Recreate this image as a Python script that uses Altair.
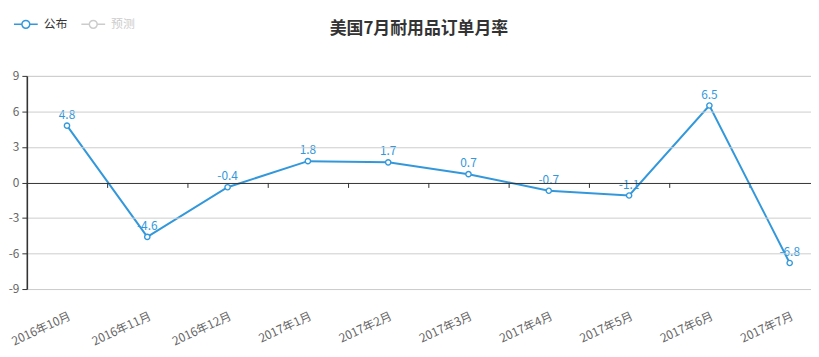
import altair as alt
import pandas as pd

months = ["2016年10月", "2016年11月", "2016年12月", "2017年1月", "2017年2月",
          "2017年3月", "2017年4月", "2017年5月", "2017年6月", "2017年7月"]
values = [4.8, -4.6, -0.4, 1.8, 1.7, 0.7, -0.7, -1.1, 6.5, -6.8]
series = ["公布", "预测"]
colors = ["#3398DB", "#cccccc"]
y_ticks = [-9, -6, -3, 0, 3, 6, 9]
title_text = "美国7月耐用品订单月率"

df = pd.DataFrame({
    "month": months,
    "value": values,
    "label": [f"{v:.1f}" for v in values],
    "series": series[0],
})

FONT = "Noto Sans CJK SC"
BLUE = colors[0]

x_scale = alt.Scale(type="band", domain=months, range=[0, 810], paddingInner=0, paddingOuter=0)
y_scale = alt.Scale(domain=[-9, 9], nice=False, zero=False)

y_axis = alt.Axis(
    title=None, values=y_ticks, grid=True, labelExpr="datum.value + ''",
    gridColor={"condition": {"test": "datum.value === 0", "value": "#333333"}, "value": "#cccccc"},
    gridWidth=1, domain=True, domainColor="#333333", domainWidth=1.6,
    ticks=True, tickColor="#333333", tickSize=5,
    labelColor="#666666", labelFont=FONT, labelFontSize=12, labelPadding=3,
    labelOverlap=False, zindex=2,
)

x_label_axis = alt.Axis(
    title=None, orient="bottom", domain=False, ticks=False, grid=False,
    labelAngle=-25, labelAlign="right", labelBaseline="middle", labelPadding=26,
    labelOffset=3, labelColor="#666666", labelFont=FONT, labelFontSize=12,
)

x_tick_axis = alt.Axis(
    title=None, orient="bottom", offset=-107.5, labels=False, domain=False,
    ticks=True, tickBand="extent", tickSize=5, tickColor="#333333", grid=False,
)

ticks_layer = alt.Chart(df).mark_point(opacity=0).encode(
    x=alt.X("month:N", sort=months, scale=x_scale, axis=x_tick_axis),
    y=alt.Y("value:Q", scale=y_scale, axis=y_axis),
)

line = alt.Chart(df).mark_line(strokeWidth=2).encode(
    x=alt.X("month:N", sort=months, scale=x_scale, axis=x_label_axis),
    y=alt.Y("value:Q", scale=y_scale, axis=y_axis),
    color=alt.Color(
        "series:N",
        scale=alt.Scale(domain=series, range=colors),
        legend=alt.Legend(
            title=None, orient="none", legendX=-14, legendY=-65, direction="horizontal",
            symbolType="M-1,0H-0.33M0.33,0H1M0.33,0A0.33,0.33,0,1,1,-0.33,0A0.33,0.33,0,1,1,0.33,0",
            symbolSize=576, symbolStrokeWidth=1.5, symbolFillColor="white",
            labelFont=FONT, labelFontSize=12, labelOffset=5, columnPadding=10,
            labelColor={"expr": "datum.label === '预测' ? '#cccccc' : '#333333'"},
        ),
    ),
)

points = alt.Chart(df).mark_point(
    filled=True, fill="white", stroke=BLUE, strokeWidth=1.4, size=28, opacity=1
).encode(
    x=alt.X("month:N", sort=months, scale=x_scale, axis=x_label_axis),
    y=alt.Y("value:Q", scale=y_scale, axis=y_axis),
)

labels = alt.Chart(df).mark_text(
    dy=-11, color=BLUE, font=FONT, fontSize=12
).encode(
    x=alt.X("month:N", sort=months, scale=x_scale, axis=x_label_axis),
    y=alt.Y("value:Q", scale=y_scale, axis=y_axis),
    text=alt.Text("label:N"),
)

data_layers = alt.layer(line, points, labels)

chart = alt.layer(ticks_layer, data_layers).resolve_axis(
    x="independent"
).properties(
    width=791, height=215,
    title=alt.TitleParams(title_text, font=FONT, fontSize=17, fontWeight="bold",
                          color="#333333", anchor="middle", offset=-27),
    autosize=alt.AutoSizeParams(type="none"),
    padding={"left": 19, "top": 67, "right": 0, "bottom": 59},
).configure_view(stroke=None).configure(background="white")

chart.save("out.html", embed_options={"renderer": "svg", "actions": False})
